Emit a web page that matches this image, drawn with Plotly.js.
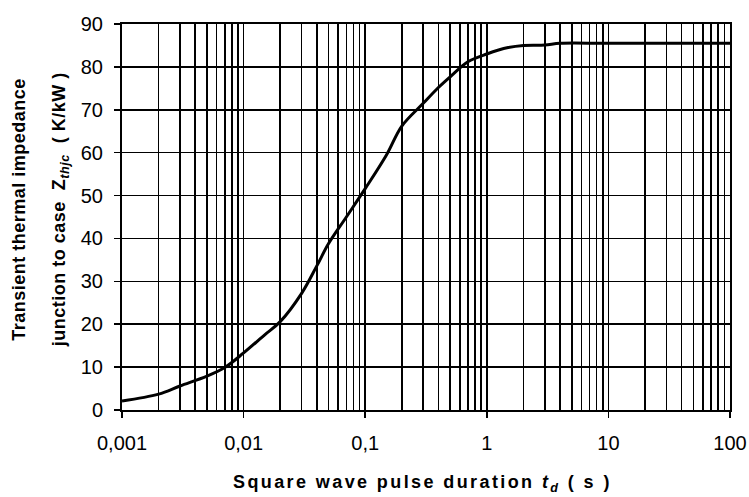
<!DOCTYPE html>
<html>
<head>
<meta charset="utf-8">
<script src="https://cdn.plot.ly/plotly-3.0.1.min.js"></script>
<style>
html,body{margin:0;padding:0;background:#fff;}
#chart{width:749px;height:497px;}
#chart .annotation[data-index="0"] text{letter-spacing:2.4px;}
#chart .annotation[data-index="1"] text{letter-spacing:0.5px;}
#chart .annotation[data-index="2"] text{letter-spacing:0.5px;}
</style>
</head>
<body>
<div id="chart"></div>
<script>
// Square wave pulse duration t_d (s)
var pulseDuration = [0.001, 0.002, 0.003, 0.005, 0.007, 0.01, 0.015, 0.02, 0.03, 0.04, 0.05, 0.07, 0.1, 0.15, 0.2, 0.3, 0.4, 0.5, 0.7, 1, 1.5, 2, 3, 4, 10, 100];
// Transient thermal impedance Z_thjc (K/kW)
var zthjc = [2.1, 3.7, 5.6, 7.9, 9.9, 13.3, 17.6, 20.6, 27.2, 33.6, 38.8, 45.0, 51.6, 59.5, 66.2, 71.5, 75.2, 77.7, 81.2, 83.0, 84.5, 85.0, 85.1, 85.5, 85.5, 85.5];

var xTickVals = [0.001, 0.01, 0.1, 1, 10, 100];
var xTickText = ["0,001", "0,01", "0,1", "1", "10", "100"];
var yTickVals = [0, 10, 20, 30, 40, 50, 60, 70, 80, 90];

var xTitle = "Square wave pulse duration <i>t</i><sub><i>d</i></sub> ( s )";
var yTitleLine1 = "Transient thermal impedance";
var yTitleLine2 = "junction to case  Z<sub><i>thjc</i></sub>  ( K/kW )";

// minor grid positions (1..9 in each decade)
var minorVals = [];
[0.001, 0.01, 0.1, 1, 10].forEach(function (d) {
  for (var k = 2; k <= 9; k++) minorVals.push(d * k);
});

var font = "Liberation Sans, Arial, sans-serif";

Plotly.newPlot("chart", [{
  x: pulseDuration,
  y: zthjc,
  type: "scatter",
  mode: "lines",
  line: {color: "#000", width: 3, shape: "spline", smoothing: 1},
  hoverinfo: "skip"
}], {
  width: 749, height: 497,
  margin: {l: 122, r: 19, t: 24, b: 87},
  paper_bgcolor: "#fff", plot_bgcolor: "#fff",
  showlegend: false,
  font: {family: font, size: 20, color: "#000"},
  xaxis: {
    type: "log",
    range: [-3, 2],
    tickmode: "array", tickvals: xTickVals, ticktext: xTickText,
    ticks: "outside", ticklen: 6, tickwidth: 1.5, tickcolor: "#000",
    showgrid: true, gridcolor: "#000", gridwidth: 1.5,
    minor: {tickmode: "array", tickvals: minorVals, showgrid: true, gridcolor: "#000", gridwidth: 1.5, ticks: ""},
    showline: true, linecolor: "#000", linewidth: 2, mirror: true,
    zeroline: false,
    tickfont: {family: font, size: 20, color: "#000"},
    ticklabelstandoff: 8
  },
  yaxis: {
    range: [0, 90],
    tickmode: "array", tickvals: yTickVals,
    ticks: "outside", ticklen: 6, tickwidth: 1.5, tickcolor: "#000",
    showgrid: true, gridcolor: "#000", gridwidth: 1.5,
    showline: true, linecolor: "#000", linewidth: 2, mirror: true,
    zeroline: false,
    tickfont: {family: font, size: 20, color: "#000"},
    ticklabelstandoff: 7
  },
  annotations: [
    {text: "<b>" + xTitle + "</b>", xref: "paper", yref: "paper", x: 0.495, y: 0,
     xanchor: "center", yanchor: "middle", yshift: -73, showarrow: false,
     font: {family: font, size: 18, color: "#000"}},
    {text: "<b>" + yTitleLine1 + "</b>", xref: "paper", yref: "paper", x: 0, y: 0.5,
     xanchor: "center", yanchor: "middle", xshift: -103, yshift: 7, textangle: -90, showarrow: false,
     font: {family: font, size: 18, color: "#000"}},
    {text: "<b>" + yTitleLine2 + "</b>", xref: "paper", yref: "paper", x: 0, y: 0.5,
     xanchor: "center", yanchor: "middle", xshift: -62, yshift: 7, textangle: -90, showarrow: false,
     font: {family: font, size: 18, color: "#000"}}
  ]
}, {staticPlot: true, displayModeBar: false});
</script>
</body>
</html>
